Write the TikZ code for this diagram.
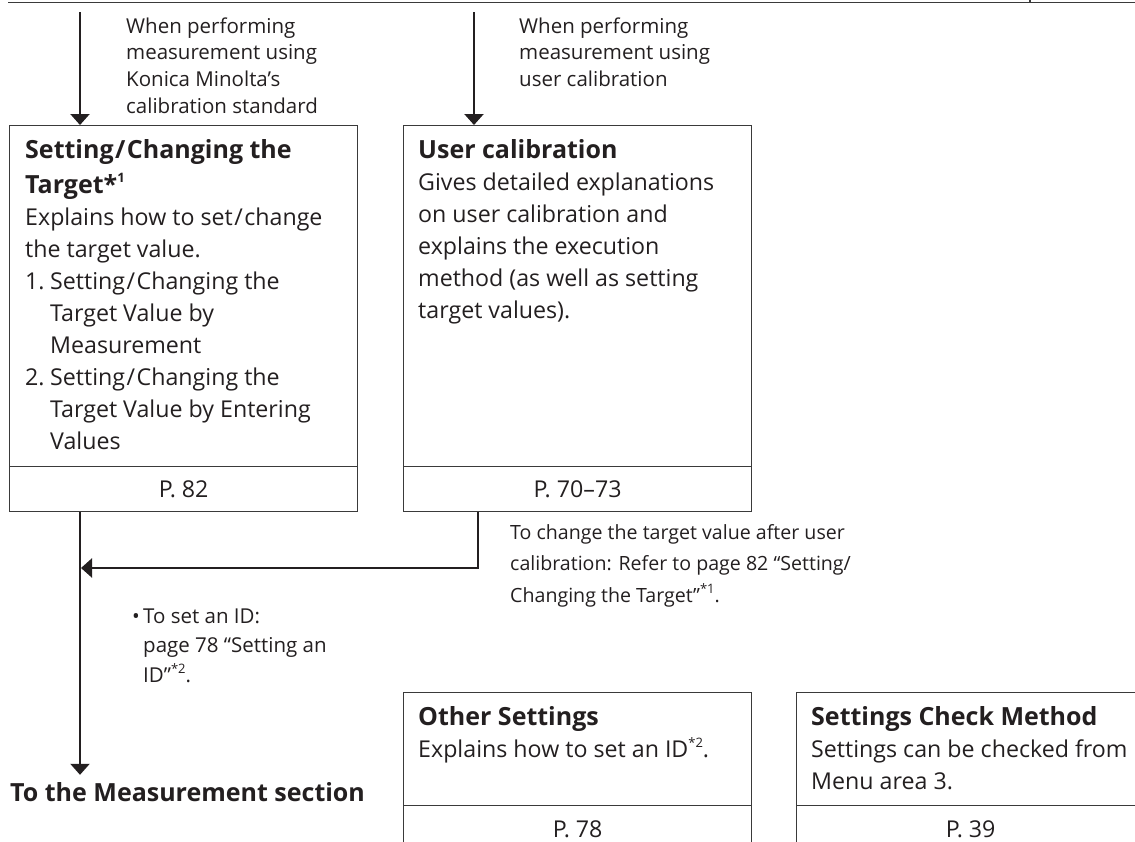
\documentclass[tikz,border=0pt]{standalone}
\usepackage{fontspec}
\setmainfont{Open Sans}
\usetikzlibrary{arrows.meta}
\definecolor{ink}{HTML}{231F20}
\definecolor{frame}{HTML}{3A3A3A}
\newcommand{\bodyfont}{\fontsize{23.2}{32}\selectfont}
\newcommand{\notefont}{\fontsize{20.5}{26.7}\selectfont}
\newcommand{\titlefont}{\fontsize{25}{35}\selectfont\bfseries}
\newcommand{\txtlines}[1]{\begin{tabular}[t]{@{}l@{}}#1\end{tabular}}
\newcommand{\sups}[1]{\raisebox{0.42em}{\fontsize{13}{13}\selectfont #1}}
\newcommand{\wslash}{\kern1.5pt/\kern1.5pt}
\tikzset{
  box/.style={draw=frame, line width=1.3pt, inner sep=0pt, anchor=north west, minimum width=348pt},
  pgbox/.style={box, minimum height=45pt, font=\bodyfont, text=ink},
  txt/.style={anchor=base west, inner sep=0pt, text=ink},
  arr/.style={draw=ink, line width=2.2pt, -{Triangle[width=19pt,length=11pt]}},
  rule/.style={draw=frame, line width=1.3pt}
}
\begin{document}
\begin{tikzpicture}[x=1pt,y=-1pt]
\clip (0,0) rectangle (1135,841);
% top rule of preceding table
\draw[rule] (8,2.5) -- (1140,2.5);
\draw[rule] (1030,0) -- (1030,2.5);

% boxes
\node[box, minimum height=341pt] (target) at (9,125) {};
\node[pgbox] (targetpg) at (9,466) {P. 82};
\node[box, minimum height=341pt] (uc) at (403,125) {};
\node[pgbox] (ucpg) at (403,466) {P. 70–73};
\node[box, minimum height=113pt] (other) at (403,692) {};
\node[box, minimum height=48pt, font=\bodyfont, text=ink] (otherpg) at (403,805) {P. 78};
\node[box, minimum height=113pt] (check) at (796,692) {};
\node[box, minimum height=48pt, font=\bodyfont, text=ink] (checkpg) at (796,805) {P. 39};

% texts in boxes
\node[txt] (tgttitle) at (25,158) {\titlefont\txtlines{Setting\wslash Changing the\\Target*\sups{1}}};
\node[txt] (tgtbody) at (25,225) {\bodyfont\txtlines{Explains how to set\wslash change\\the target value.\\\makebox[25pt][l]{1.}Setting\wslash Changing the\\\hspace*{25pt}Target Value by\\\hspace*{25pt}Measurement\\\makebox[25pt][l]{2.}Setting\wslash Changing the\\\hspace*{25pt}Target Value by Entering\\\hspace*{25pt}Values}};
\node[txt] (uctitle) at (418,158) {\titlefont User calibration};
\node[txt] (ucbody) at (418,190) {\bodyfont\txtlines{Gives detailed explanations\\on user calibration and\\explains the execution\\method (as well as setting\\target values).}};
\node[txt] (othertitle) at (418,725) {\titlefont Other Settings};
\node[txt] (otherbody) at (418,757) {\bodyfont Explains how to set an ID\sups{*2}.};
\node[txt] (checktitle) at (811,725) {\titlefont Settings Check Method};
\node[txt] (checkbody) at (811,757) {\bodyfont\txtlines{Settings can be checked from\\Menu area 3.}};

% notes
\node[txt] (note1) at (126,33) {\notefont\txtlines{When performing\\measurement using\\Konica Minolta’s\\calibration standard}};
\node[txt] (note2) at (519,33) {\notefont\txtlines{When performing\\measurement using\\user calibration}};
\node[txt] (note3) at (510,539) {\fontsize{19.6}{31.5}\selectfont\txtlines{To change the target value after user\\calibration: Refer to page 82 “Setting/\\Changing the Target”\sups{*1}.}};
\node[txt] (note4) at (132,623) {\fontsize{20.5}{29.5}\selectfont\txtlines{\makebox[11pt][l]{•}To set an ID:\\\hspace*{11pt}page 78 “Setting an\\\hspace*{11pt}ID”\sups{*2}.}};

\node[txt] (meas) at (10,801) {\titlefont To the Measurement section};

% connectors
\coordinate (x1) at (80,12);
\coordinate (x2) at (474,12);
\coordinate (xr) at (478,0);
\coordinate (join) at (81,568);
\draw[arr] (x1) -- (x1 |- target.north);
\draw[arr] (x2) -- (x2 |- uc.north);
\draw[arr] (xr |- ucpg.south) |- (join);
\draw[arr, shorten >=7pt] (x1 |- targetpg.south) -- (x1 |- meas.north);
\end{tikzpicture}
\end{document}
